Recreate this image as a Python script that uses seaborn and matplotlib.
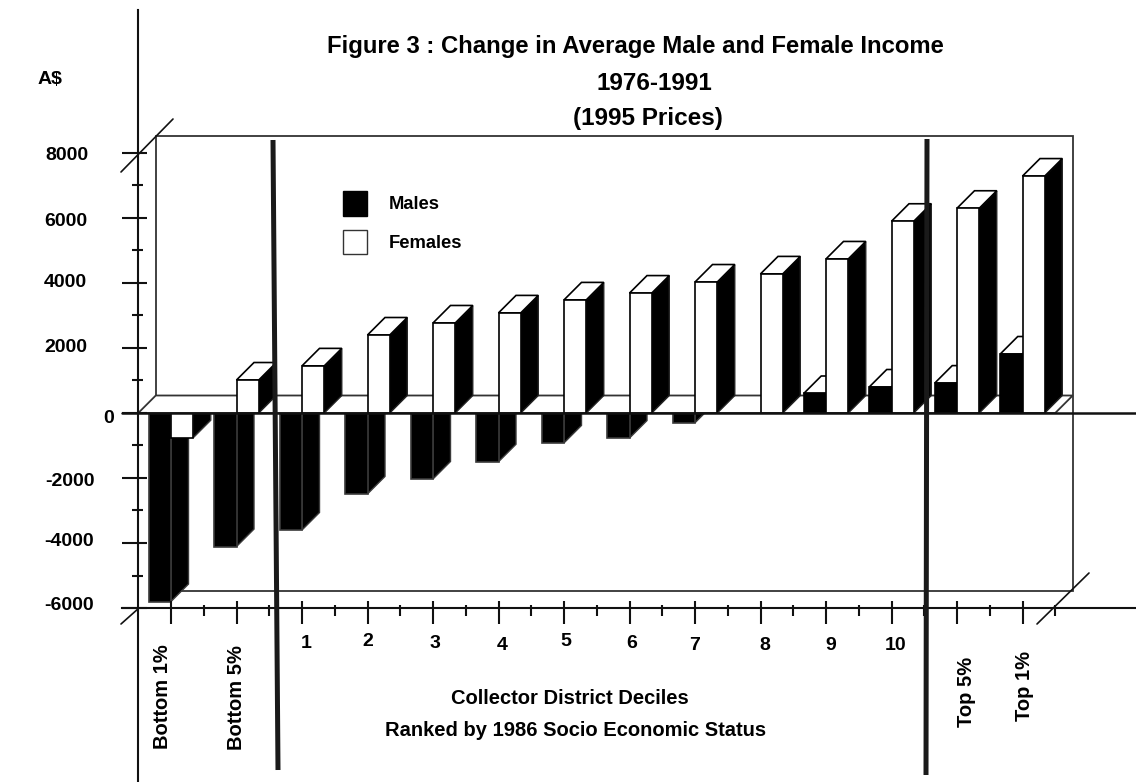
import matplotlib
matplotlib.use('Agg')
import matplotlib.pyplot as plt
from matplotlib.patches import Patch, Polygon, Rectangle
from matplotlib.transforms import ScaledTranslation
import numpy as np
import pandas as pd
import seaborn as sns

categories = ['Bottom 1%', 'Bottom 5%', '1', '2', '3', '4', '5', '6', '7', '8', '9', '10', 'Top 5%', 'Top 1%']
males = [-5800, -4110, -3600, -2490, -2030, -1500, -920, -770, -300, 0, 600, 800, 920, 1815]
females = [-760, 1015, 1450, 2400, 2770, 3080, 3480, 3690, 4030, 4280, 4740, 5900, 6300, 7290]
y_major = [8000, 6000, 4000, 2000, 0, -2000, -4000, -6000]
y_minor = [7000, 5000, 3000, 1000, -1000, -3000, -5000]

# pixel layout of the scan: category 0 sits at x=171, value 0 at y=413
W, H = 1136, 782
X0, XS = 171, 65.5
Y0, YS = 413, 0.0325


def x_of(px):
    return (px - X0) / XS


def y_of(py):
    return (Y0 - py) / YS


DX = 17.5 / XS
DY = 17.5 / YS

sns.set_theme(style='white')
plt.rcParams['font.family'] = ['Liberation Sans', 'DejaVu Sans']
plt.rcParams['font.weight'] = 'bold'

df = pd.DataFrame({'cat': categories * 2,
                   'change': males + females,
                   'sex': ['Males'] * 14 + ['Females'] * 14})

fig = plt.figure(figsize=(W / 100, H / 100), dpi=100)
ax = fig.add_axes([0, 0, 1, 1])
sns.barplot(data=df, x='cat', y='change', hue='sex', hue_order=['Males', 'Females'],
            palette={'Males': 'black', 'Females': 'white'}, width=0.68, gap=0,
            errorbar=None, edgecolor='black', linewidth=1.2, legend=False, ax=ax)
ax.set_xlim(x_of(0), x_of(W))
ax.set_ylim(y_of(H), y_of(0))
ax.set_xlabel('')
ax.set_ylabel('')

# back wall and the floor at zero
ax.add_patch(Rectangle((-0.5 + DX, -6000 + DY), 14, 14000, fc='white', ec='#333333', lw=1.3, zorder=0.5))
ax.add_patch(Polygon([(-0.5, 0), (13.5, 0), (13.5 + DX, DY), (-0.5 + DX, DY)],
                     fc='white', ec='#333333', lw=1.3, zorder=3))

# depth faces for each seaborn bar
for k, container in enumerate(ax.containers):
    for bar in container:
        x = bar.get_x()
        w = bar.get_width()
        v = bar.get_height()
        if v == 0:
            bar.set_visible(False)
            continue
        x1 = x + w
        if v < 0:
            base = 1 + k * 0.5
            ax.add_patch(Polygon([(x1, 0), (x1, v), (x1 + DX, v + DY), (x1 + DX, DY)],
                                 fc='black', ec='#3a3a3a', lw=1, zorder=base))
            bar.set_zorder(base + 0.2)
            bar.set_edgecolor('#3a3a3a')
        else:
            base = 4 + k * 0.5
            ax.add_patch(Polygon([(x1, 0), (x1, v), (x1 + DX, v + DY), (x1 + DX, DY)],
                                 fc='black', ec='#222222', lw=1, zorder=base))
            ax.add_patch(Polygon([(x, v), (x1, v), (x1 + DX, v + DY), (x + DX, v + DY)],
                                 fc='white', ec='black', lw=1.2, zorder=base + 0.1))
            bar.set_zorder(base + 0.2)
# the white female front of the first group keeps a black outline
ax.containers[1][0].set_edgecolor('black')

# axes, drawn where the original has them
for side in ['top', 'right']:
    ax.spines[side].set_visible(False)
ax.spines['left'].set_position(('data', -0.5))
ax.spines['left'].set_bounds(y_of(H), y_of(10))
ax.spines['bottom'].set_position(('data', -6000))
ax.spines['bottom'].set_bounds(x_of(122), x_of(W))
for side in ['left', 'bottom']:
    ax.spines[side].set_color('#111111')
    ax.spines[side].set_linewidth(1.5)
    ax.spines[side].set_zorder(6)
ax.plot([x_of(122), x_of(W)], [0, 0], color='#111111', lw=1.8, zorder=6)

ax.hlines(y_major, x_of(122), x_of(147), color='#111111', lw=1.5, zorder=6)
ax.hlines(y_minor, x_of(132), x_of(143), color='#111111', lw=1.5, zorder=6)
ax.vlines(np.arange(14), y_of(624), y_of(601), color='#111111', lw=1.5, zorder=6)
ax.vlines(np.arange(14) + 0.5, y_of(616), y_of(605), color='#111111', lw=1.5, zorder=6)

# corner slashes and the two heavy dividers
for a, b in [((121, 172), (173, 119)), ((121, 624), (139, 608)), ((1037, 624), (1089, 573))]:
    ax.plot([x_of(a[0]), x_of(b[0])], [y_of(a[1]), y_of(b[1])], color='#111111', lw=1.2, zorder=6)
ax.plot([x_of(273), x_of(278)], [y_of(140), y_of(770)], color='#1a1a1a', lw=3.6, zorder=7, solid_capstyle='butt')
ax.plot([x_of(927), x_of(926)], [y_of(139), y_of(775)], color='#1a1a1a', lw=3.6, zorder=7, solid_capstyle='butt')

# tick labels, nudged to where each one sits in the scan
ax.tick_params(length=0, pad=0)
ax.set_yticks(y_major, [str(v) for v in y_major])
ax.set_xticks(range(14), categories)
y_label_pos = [(89, 155), (88, 222), (88, 283), (88, 348), (115, 419), (95, 482), (95, 542), (95, 606)]
for lab, v, (px, py) in zip(ax.get_yticklabels(), y_major, y_label_pos):
    lab.set_fontsize(14)
    lab.set_color('black')
    lab.set_ha('right')
    lab.set_va('center')
    off = ScaledTranslation((px - 139) / 100, (Y0 - py) / 100 - v * YS / 100, fig.dpi_scale_trans)
    lab.set_transform(lab.get_transform() + off)

x_label_pos = [(162, 697), (236, 698), (306, 643), (368, 642), (435, 643), (502, 646), (566, 642),
               (632, 644), (695, 646), (765, 646), (831, 645), (896, 646), (967, 692), (1025, 686)]
for i, (lab, (px, py)) in enumerate(zip(ax.get_xticklabels(), x_label_pos)):
    lab.set_color('black')
    lab.set_ha('center')
    lab.set_va('center')
    if categories[i].isdigit():
        lab.set_fontsize(14)
    else:
        lab.set_fontsize(14.5)
        lab.set_rotation(90)
    off = ScaledTranslation((px - (X0 + i * XS)) / 100, (608 - py) / 100, fig.dpi_scale_trans)
    lab.set_transform(lab.get_transform() + off)


def put(px, py, s, size):
    fig.text(px / W, 1 - py / H, s, fontsize=size, ha='center', va='center', color='black')


put(635, 47, 'Figure 3 : Change in Average Male and Female Income', 17.2)
put(654, 84, '1976-1991', 17.5)
put(648, 118, '(1995 Prices)', 17.5)
put(50, 80, 'A$', 14)
put(570, 699, 'Collector District Deciles', 14.5)
put(576, 731, 'Ranked by 1986 Socio Economic Status', 14.5)

handles = [Patch(fc='black', ec='black', label='Males'), Patch(fc='white', ec='#333333', label='Females')]
ax.legend(handles=handles, loc='upper left', bbox_to_anchor=(343 / W, 1 - 191 / H), frameon=False,
          fontsize=13.2, labelcolor='black', handlelength=1.32, handleheight=1.7, labelspacing=0.75,
          handletextpad=1.15, borderpad=0, borderaxespad=0).set_zorder(8)

fig.savefig('out.png', dpi=100)
